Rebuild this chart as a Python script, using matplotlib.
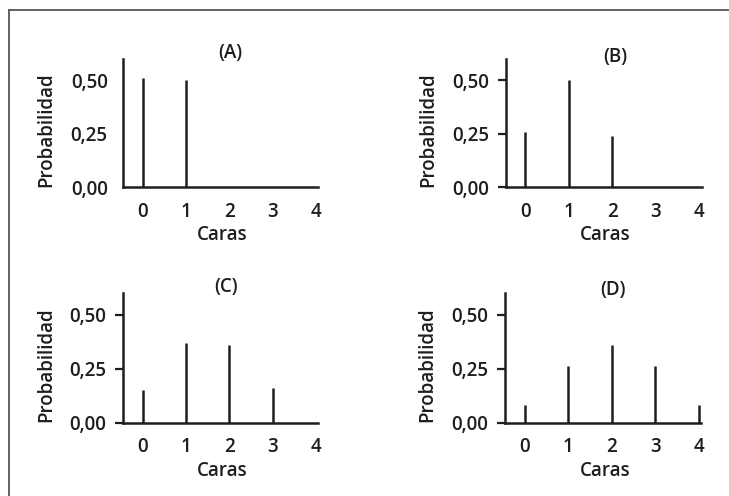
import matplotlib
matplotlib.use("Agg")
import matplotlib.pyplot as plt
from matplotlib.lines import Line2D

caras = [0, 1, 2, 3, 4]
prob_a = [0.51, 0.50]
prob_b = [0.26, 0.50, 0.24]
prob_c = [0.15, 0.37, 0.36, 0.16]
prob_d = [0.08, 0.26, 0.36, 0.26, 0.08]
titles = ["(A)", "(B)", "(C)", "(D)"]
yticks = [0.0, 0.25, 0.5]
ytick_labels = ["0,00", "0,25", "0,50"]
x_tick_labels = ["0", "1", "2", "3", "4"]

W, H = 729, 496
fig = plt.figure(figsize=(W / 100, H / 100), dpi=100)
fig.patch.set_facecolor("white")

FONT = "Open Sans"
WEIGHT = "semibold"
INK = "#1e1e1e"
FS = 13.5

# axes rectangles in pixels: left, top, right, bottom
rects = [
    (123, 59, 318, 187),
    (505.5, 59, 701.5, 187),
    (123, 293, 318, 422.5),
    (505, 293, 701, 422.5),
]
data = [prob_a, prob_b, prob_c, prob_d]
title_pos = [(0.55, 53), (0.56, 57), (0.53, 287), (0.55, 290)]
ylab_x = [-0.34, -0.345, -0.34, -0.345]

for i, (r, vals) in enumerate(zip(rects, data)):
    l, t, rr, b = r
    ax = fig.add_axes([l / W, 1 - b / H, (rr - l) / W, (b - t) / H])
    xs = caras[:len(vals)]
    ax.vlines(xs, 0, vals, colors=INK, linewidth=1.8)
    ax.set_xlim(-0.46, 4.05)
    ax.set_ylim(0, 0.60)
    for s in ["top", "right"]:
        ax.spines[s].set_visible(False)
    for s in ["left", "bottom"]:
        ax.spines[s].set_linewidth(1.8)
        ax.spines[s].set_color(INK)
    ax.set_xticks(caras)
    ax.set_xticklabels(x_tick_labels, fontfamily=FONT, fontweight=WEIGHT,
                       fontsize=FS, color=INK)
    ax.set_yticks(yticks)
    ax.set_yticklabels(ytick_labels, fontfamily=FONT, fontweight=WEIGHT,
                       fontsize=FS, color=INK)
    ax.tick_params(axis="x", length=0, pad=10.5)
    if i == 0:
        ax.tick_params(axis="y", length=0, pad=11)
    else:
        ax.tick_params(axis="y", length=6, width=1.6, color=INK, pad=6)
    ax.set_xlabel("Caras", fontfamily=FONT, fontweight=WEIGHT,
                  fontsize=FS, color=INK)
    ax.xaxis.set_label_coords(0.51, -0.30)
    ax.set_ylabel("Probabilidad", fontfamily=FONT, fontweight=WEIGHT,
                  fontsize=FS, color=INK)
    ax.yaxis.set_label_coords(ylab_x[i], 0.445)
    tx, ty = title_pos[i]
    fig.text((l + tx * (rr - l)) / W, 1 - ty / H, titles[i],
             fontfamily=FONT, fontweight=WEIGHT, fontsize=FS,
             color=INK, ha="center", va="center")

# outer frame (top and left edges)
fig.add_artist(Line2D([8.5 / W, 1.0], [1 - 9.5 / H, 1 - 9.5 / H],
                      transform=fig.transFigure, color="#555555", linewidth=1.3))
fig.add_artist(Line2D([8.5 / W, 8.5 / W], [0.0, 1 - 9.5 / H],
                      transform=fig.transFigure, color="#555555", linewidth=1.3))

fig.savefig("out.png", dpi=100, facecolor="white")
